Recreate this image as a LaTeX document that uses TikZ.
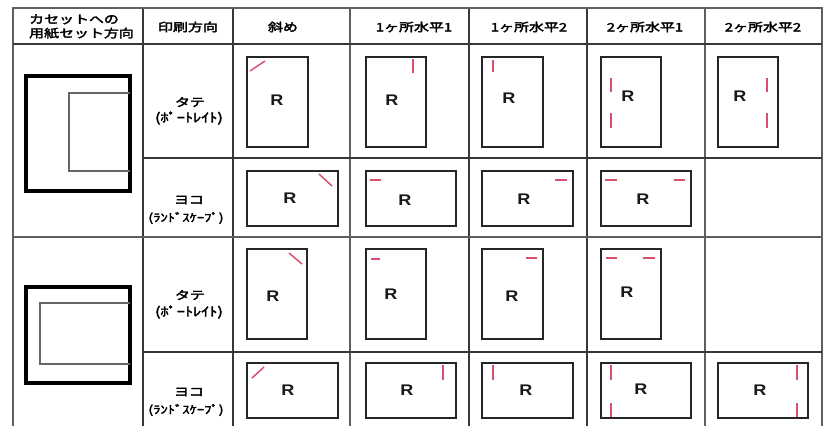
\documentclass[tikz,border=0pt]{standalone}
\usepackage{fontspec}
\newfontfamily\jp{Noto Sans CJK JP}[FakeStretch=1.3,FakeBold=3]
\newfontfamily\rfont{Liberation Sans}[FakeStretch=1.17]
\definecolor{gridc}{RGB}{55,55,55}
\definecolor{heavyc}{RGB}{95,95,95}
\definecolor{markc}{RGB}{215,80,110}
\begin{document}
\begin{tikzpicture}[x=1pt,y=-1pt,
  gridline/.style={draw=gridc,line width=1.2pt},
  heavyline/.style={draw=heavyc,line width=2.2pt},
  paper/.style={draw=black!85,line width=1.1pt},
  redmark/.style={draw=markc,line width=1.5pt},
  cass/.style={draw=black,line width=3.3pt},
  tray/.style={draw=black!60,line width=1.4pt},
  hdr/.style={font=\jp\fontsize{11.5}{14}\selectfont,text=black,inner sep=0pt},
  lbl/.style={font=\jp\fontsize{11.5}{16}\selectfont,text=black,inner sep=0pt},
  plbl/.style={font=\jp\fontsize{12.5}{16}\selectfont,text=black,inner sep=0pt},
  llbl/.style={font=\jp\fontsize{11.2}{16}\selectfont,text=black,inner sep=0pt},
  rr/.style={font=\rfont\bfseries\fontsize{15.4}{16}\selectfont,text=black!90,inner sep=0pt}]
\useasboundingbox (0,0) rectangle (823,426);
\fill[white] (0,0) rectangle (823,426);
\clip (0,0) rectangle (823,426);

% ---------- grid ----------
\foreach \x in {143,233,469,587} \draw[gridline] (\x,8) -- (\x,432);
\foreach \x in {350,705} \draw[heavyline] (\x,8) -- (\x,432);
\draw[heavyline] (13,7) -- (13,432);
\draw[heavyline] (822,7) -- (822,432);
\draw[heavyline] (12,8) -- (823,8);
\draw[gridline] (13,44) -- (822,44);
\draw[gridline] (143,158) -- (822,158);
\draw[heavyline] (13,237) -- (822,237);
\draw[gridline] (143,352) -- (822,352);

% ---------- header ----------
\node[hdr,anchor=west,align=left] (hcas) at (29,26.5) {カセットへの\\用紙セット方向};
\node[hdr] (hdir) at (188,27) {印刷方向};
\node[hdr] (hdiag) at (283,27) {斜め};
\node[hdr] (hh11) at (414,27) {1ヶ所水平1};
\node[hdr] (hh12) at (529,27) {1ヶ所水平2};
\node[hdr] (hh21) at (645,27) {2ヶ所水平1};
\node[hdr] (hh22) at (763,27) {2ヶ所水平2};

% ---------- row labels ----------
\node[lbl] (t1) at (190,102) {タテ};
\node[plbl] (t1p) at (189,118) {(ﾎﾟｰﾄﾚｲﾄ)};
\node[lbl] (y1) at (189,200) {ヨコ};
\node[llbl] (y1p) at (186,218) {(ﾗﾝﾄﾞｽｹｰﾌﾟ)};
\node[lbl] (t2) at (190,295) {タテ};
\node[plbl] (t2p) at (189,312) {(ﾎﾟｰﾄﾚｲﾄ)};
\node[lbl] (y2) at (189,392) {ヨコ};
\node[llbl] (y2p) at (186,410) {(ﾗﾝﾄﾞｽｹｰﾌﾟ)};

% ---------- cassettes ----------
\draw[cass] (26,76) rectangle (130,191);
\draw[tray] (130,93) -- (69,93) -- (69,171) -- (130,171);
\draw[cass] (26,287) rectangle (130,383);
\draw[tray] (130,303) -- (40,303) -- (40,364) -- (130,364);

% ---------- row 1 (portrait) ----------
\draw[paper] (247,57) rectangle (308,147);
\draw[paper] (366,57) rectangle (426,147);
\draw[paper] (482,57) rectangle (543,147);
\draw[paper] (601,57) rectangle (661,147);
\draw[paper] (718,57) rectangle (778,147);
\node[rr] (r13) at (277,100) {R};
\node[rr] (r14) at (392,100) {R};
\node[rr] (r15) at (509,98) {R};
\node[rr] (r16) at (628,96) {R};
\node[rr] (r17) at (740,96) {R};
\draw[redmark] (250,71) -- (265,61);
\draw[redmark] (413,59) -- (413,73);
\draw[redmark] (493,60) -- (493,72);
\draw[redmark] (611,78) -- (611,92);
\draw[redmark] (611,113) -- (611,128);
\draw[redmark] (767,78) -- (767,92);
\draw[redmark] (767,113) -- (767,128);

% ---------- row 2 (landscape) ----------
\draw[paper] (247,171) rectangle (338,226);
\draw[paper] (366,171) rectangle (456,226);
\draw[paper] (482,171) rectangle (573,226);
\draw[paper] (601,171) rectangle (691,226);
\node[rr] (r23) at (290,198) {R};
\node[rr] (r24) at (405,200) {R};
\node[rr] (r25) at (524,199) {R};
\node[rr] (r26) at (643,199) {R};
\draw[redmark] (319,174) -- (332,186);
\draw[redmark] (370,180) -- (381,180);
\draw[redmark] (555,180) -- (567,180);
\draw[redmark] (605,180) -- (617,180);
\draw[redmark] (674,180) -- (685,180);

% ---------- row 3 (portrait) ----------
\draw[paper] (247,249) rectangle (307,339);
\draw[paper] (366,249) rectangle (426,339);
\draw[paper] (482,249) rectangle (543,339);
\draw[paper] (601,249) rectangle (661,339);
\node[rr] (r33) at (273,296) {R};
\node[rr] (r34) at (391,294) {R};
\node[rr] (r35) at (512,296) {R};
\node[rr] (r36) at (627,292) {R};
\draw[redmark] (289,253) -- (302,264);
\draw[redmark] (371,259) -- (380,259);
\draw[redmark] (526,258) -- (537,258);
\draw[redmark] (606,258) -- (617,258);
\draw[redmark] (643,258) -- (655,258);

% ---------- row 4 (landscape) ----------
\draw[paper] (247,363) rectangle (338,418);
\draw[paper] (366,363) rectangle (456,418);
\draw[paper] (482,363) rectangle (573,418);
\draw[paper] (601,363) rectangle (691,418);
\draw[paper] (718,363) rectangle (808,418);
\node[rr] (r43) at (288,390) {R};
\node[rr] (r44) at (407,390) {R};
\node[rr] (r45) at (526,390) {R};
\node[rr] (r46) at (641,389) {R};
\node[rr] (r47) at (760,390) {R};
\draw[redmark] (252,378) -- (264,367);
\draw[redmark] (443,365) -- (443,380);
\draw[redmark] (493,365) -- (493,380);
\draw[redmark] (611,365) -- (611,380);
\draw[redmark] (611,403) -- (611,417);
\draw[redmark] (797,365) -- (797,380);
\draw[redmark] (797,403) -- (797,417);
\end{tikzpicture}
\end{document}
